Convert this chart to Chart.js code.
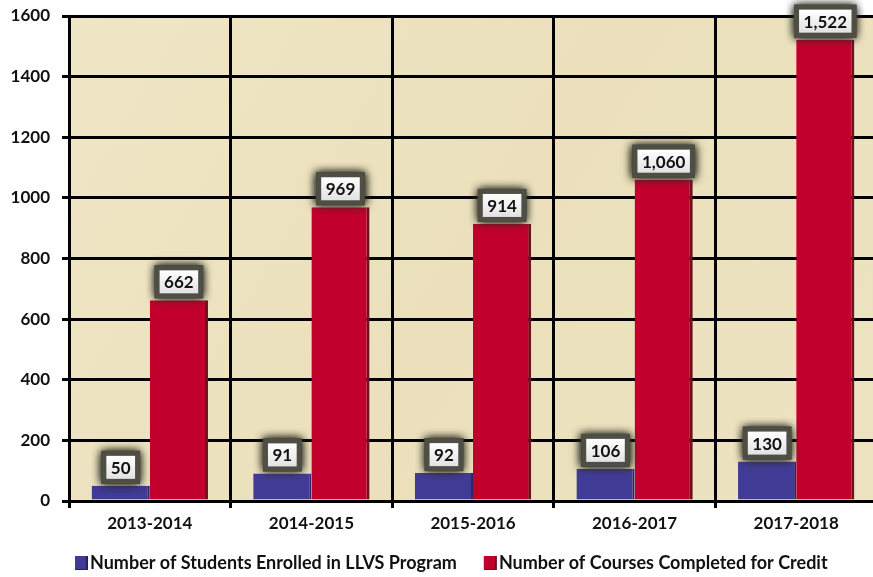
<!DOCTYPE html>
<html>
<head>
<meta charset="utf-8">
<script src="https://cdn.jsdelivr.net/npm/chart.js@4.4.1/dist/chart.umd.min.js"></script>
<style>
  html, body { margin: 0; padding: 0; background: #fff; overflow: hidden; width: 873px; height: 577px; }
  canvas { display: block; }
</style>
</head>
<body>
<canvas id="llvsChart" width="877" height="577"></canvas>
<script>
// chart data
var schoolYears = ['2013-2014', '2014-2015', '2015-2016', '2016-2017', '2017-2018'];
var studentsEnrolled = [50, 91, 92, 106, 130];
var coursesCompleted = [662, 969, 914, 1060, 1522];
var seriesNames = ['Number of Students Enrolled in LLVS Program', 'Number of Courses Completed for Credit'];
var yMax = 1600;
var yStep = 200;

var FONT = 'Lato, "Open Sans", sans-serif';
var blue = '#403b95';
var red = '#c1002b';

// parchment coloured plot area
var parchment = {
    id: 'parchment',
    beforeDraw: function(chart) {
        var a = chart.chartArea, ctx = chart.ctx;
        var g = ctx.createLinearGradient(a.left, a.top, a.right, a.bottom);
        g.addColorStop(0, '#efe6c6');
        g.addColorStop(0.5, '#ebe0bb');
        g.addColorStop(1, '#ede3c1');
        ctx.save();
        ctx.fillStyle = g;
        ctx.fillRect(a.left, a.top, a.right - a.left, a.bottom - a.top);
        ctx.restore();
    }
};

// white value boxes with a dark glow
var valueBoxes = {
    id: 'valueBoxes',
    afterDatasetsDraw: function(chart) {
        var ctx = chart.ctx;
        ctx.save();
        ctx.font = 'bold 17px ' + FONT;
        ctx.textAlign = 'center';
        ctx.textBaseline = 'middle';
        chart.data.datasets.forEach(function(ds, i) {
            chart.getDatasetMeta(i).data.forEach(function(bar, j) {
                var txt = ds.data[j].toLocaleString('en-US');
                var w = ctx.measureText(txt).width + 9;
                var h = 23;
                var x = bar.x - w / 2;
                var y = bar.y - 7 - h;
                ctx.save();
                ctx.shadowColor = 'rgba(40,40,30,1)';
                ctx.shadowBlur = 9;
                ctx.fillStyle = '#4e4e44';
                ctx.fillRect(x - 5, y - 5, w + 10, h + 10);
                ctx.fillRect(x - 5, y - 5, w + 10, h + 10);
                ctx.restore();
                var g = ctx.createLinearGradient(0, y, 0, y + h);
                g.addColorStop(0, '#ffffff');
                g.addColorStop(1, '#e2e2e2');
                ctx.fillStyle = g;
                ctx.fillRect(x, y, w, h);
                ctx.fillStyle = '#111';
                ctx.fillText(txt, bar.x, y + h / 2 + 1);
            });
        });
        ctx.restore();
    }
};

// legend under the axis
var bottomLegend = {
    id: 'bottomLegend',
    afterDraw: function(chart) {
        var ctx = chart.ctx;
        var colors = [blue, red];
        var edges = ['#25215f', '#6d1020'];
        var x = 75, y = 563;
        ctx.save();
        ctx.font = 'bold 18px ' + FONT;
        ctx.textBaseline = 'middle';
        seriesNames.forEach(function(name, i) {
            ctx.fillStyle = edges[i];
            ctx.fillRect(x, y - 7, 13, 14);
            ctx.fillStyle = colors[i];
            ctx.fillRect(x, y - 7, 11, 13);
            ctx.fillStyle = '#111';
            ctx.fillText(name, x + 15, y);
            x += 15 + ctx.measureText(name).width + 27;
        });
        ctx.restore();
    }
};

var ctx = document.getElementById('llvsChart').getContext('2d');
var myBarChart = new Chart(ctx, {
    type: 'bar',
    data: {
        labels: schoolYears,
        datasets: [{
            label: seriesNames[0],
            data: studentsEnrolled,
            backgroundColor: blue,
            borderColor: '#2a2670',
            borderWidth: { top: 0, right: 2, bottom: 0, left: 0 },
            borderSkipped: false
        }, {
            label: seriesNames[1],
            data: coursesCompleted,
            backgroundColor: red,
            borderColor: '#6d1020',
            borderWidth: { top: 0, right: 3, bottom: 0, left: 0 },
            borderSkipped: false
        }]
    },
    options: {
        responsive: false,
        animation: false,
        categoryPercentage: 0.72,
        barPercentage: 1.0,
        layout: { padding: { top: 16, right: 0, bottom: 0, left: 0 } },
        scales: {
            x: {
                afterFit: function(scale) { scale.height = 76; scale.paddingLeft = 0; scale.paddingRight = 0; },
                grid: { color: '#000', lineWidth: 3, tickLength: 7, offset: true },
                border: { color: '#000', width: 3 },
                ticks: { color: '#111', padding: 5, font: { family: FONT, size: 17, weight: 'bold' } }
            },
            y: {
                min: 0,
                max: yMax,
                afterFit: function(scale) { scale.width = 69; scale.paddingTop = 0; scale.paddingBottom = 0; },
                grid: { color: '#000', lineWidth: 3, tickLength: 7 },
                border: { color: '#000', width: 3 },
                ticks: {
                    stepSize: yStep,
                    color: '#111',
                    padding: 12,
                    font: { family: FONT, size: 17, weight: 'bold' },
                    callback: function(v) { return String(v); }
                }
            }
        },
        plugins: {
            legend: { display: false },
            tooltip: { enabled: false }
        }
    },
    plugins: [parchment, valueBoxes, bottomLegend]
});
</script>
</body>
</html>
